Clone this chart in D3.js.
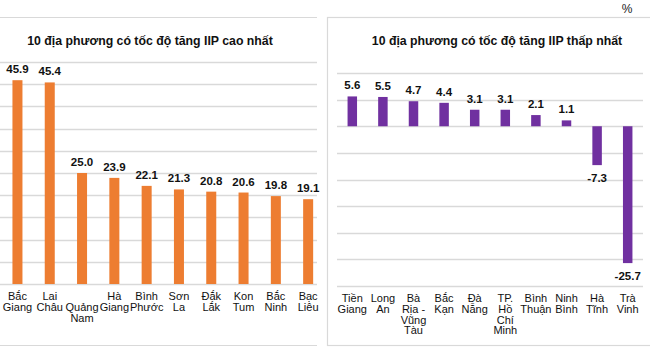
<!DOCTYPE html>
<html><head><meta charset="utf-8">
<script src="https://cdn.jsdelivr.net/npm/d3@7"></script>
<style>html,body{margin:0;padding:0;background:#fff;}svg{display:block;font-family:"Liberation Sans",Arial,sans-serif;}</style>
</head><body>
<svg id="c" width="650" height="349"></svg>
<script>
const leftTitle = "10 địa phương có tốc độ tăng IIP cao nhất";
const rightTitle = "10 địa phương có tốc độ tăng IIP thấp nhất";
const leftCategories = [["Bắc","Giang"],["Lai","Châu"],["","Quảng","Nam"],["Hà","Giang"],["Bình","Phước"],["Sơn","La"],["Đắk","Lắk"],["Kon","Tum"],["Bắc","Ninh"],["Bạc","Liêu"]];
const leftValues = [45.9,45.4,25.0,23.9,22.1,21.3,20.8,20.6,19.8,19.1];
const leftTicks = [0,5,10,15,20,25,30,35,40,45,50];
const rightCategories = [["Tiền","Giang"],["Long","An"],["Bà","Rịa -","Vũng","Tàu"],["Bắc","Kạn"],["Đà","Nẵng"],["TP.","Hồ","Chí","Minh"],["Bình","Thuận"],["Ninh","Bình"],["Hà","Tĩnh"],["Trà","Vinh"]];
const rightValues = [5.6,5.5,4.7,4.4,3.1,3.1,2.1,1.1,-7.3,-25.7];
const rightTicks = [-30,-25,-20,-15,-10,-5,0,5,10];
const unitLabel = "%";

const svg = d3.select("#c");
const grid = "#d9d9d9";

// frames
svg.append("line").attr("x1",0).attr("x2",317).attr("y1",17.5).attr("y2",17.5).attr("stroke",grid).attr("stroke-width",1.2);
svg.append("line").attr("x1",0).attr("x2",317).attr("y1",345.5).attr("y2",345.5).attr("stroke",grid).attr("stroke-width",1.2);
svg.append("rect").attr("x",327.5).attr("y",17.5).attr("width",330).attr("height",328).attr("fill","none").attr("stroke",grid).attr("stroke-width",1.2);
svg.append("text").attr("x",627).attr("y",13).attr("text-anchor","middle").attr("font-size",12).attr("fill","#222").text(unitLabel);

function panel(o){
  const x = d3.scaleBand().domain(d3.range(o.values.length)).range(o.xr).paddingInner(o.pad).paddingOuter(o.pad/2);
  const y = d3.scaleLinear().domain(o.dom).range(o.yr);
  const g = svg.append("g");
  g.append("text").attr("x",o.titleX).attr("y",45).attr("text-anchor","middle").attr("font-size",12.3).attr("font-weight","bold").attr("fill","#111").text(o.title);
  g.selectAll(".gl").data(o.ticks).join("line").attr("x1",o.gx[0]).attr("x2",o.gx[1])
    .attr("y1",d=>Math.round(y(d))+0.5).attr("y2",d=>Math.round(y(d))+0.5).attr("stroke",grid).attr("stroke-width",1.3);
  g.selectAll(".b").data(o.values).join("rect")
    .attr("x",(d,i)=>x(i)).attr("width",x.bandwidth())
    .attr("y",d=>y(Math.max(0,d))).attr("height",d=>Math.abs(y(d)-y(0)))
    .attr("fill",o.color);
  g.selectAll(".v").data(o.values).join("text")
    .attr("x",(d,i)=>x(i)+x.bandwidth()/2)
    .attr("y",d=>d>=0? y(d)-7 : y(d)+17)
    .attr("text-anchor","middle").attr("font-size",11.5).attr("font-weight","bold").attr("fill","#111")
    .text(d=>d.toFixed(1));
  o.cats.forEach((lines,i)=>{
    const t = g.append("text").attr("text-anchor","middle").attr("font-size",11).attr("fill","#111");
    lines.forEach((s,k)=>{
      t.append("tspan").attr("x",x(i)+x.bandwidth()/2).attr("y",o.labY + k*o.lh).text(s);
    });
  });
}

panel({values:leftValues,cats:leftCategories,ticks:leftTicks,dom:[0,50],yr:[284,62],xr:[1.3,324.3],pad:0.69,
  gx:[0,317],color:"#ED7D31",title:leftTitle,titleX:150,labY:300,lh:10.8});
panel({values:rightValues,cats:rightCategories,ticks:rightTicks,dom:[-30,10],yr:[286,73],xr:[337,643],pad:0.69,
  gx:[337,643],color:"#7030A0",title:rightTitle,titleX:497,labY:302,lh:10.8});
</script>
</body></html>
